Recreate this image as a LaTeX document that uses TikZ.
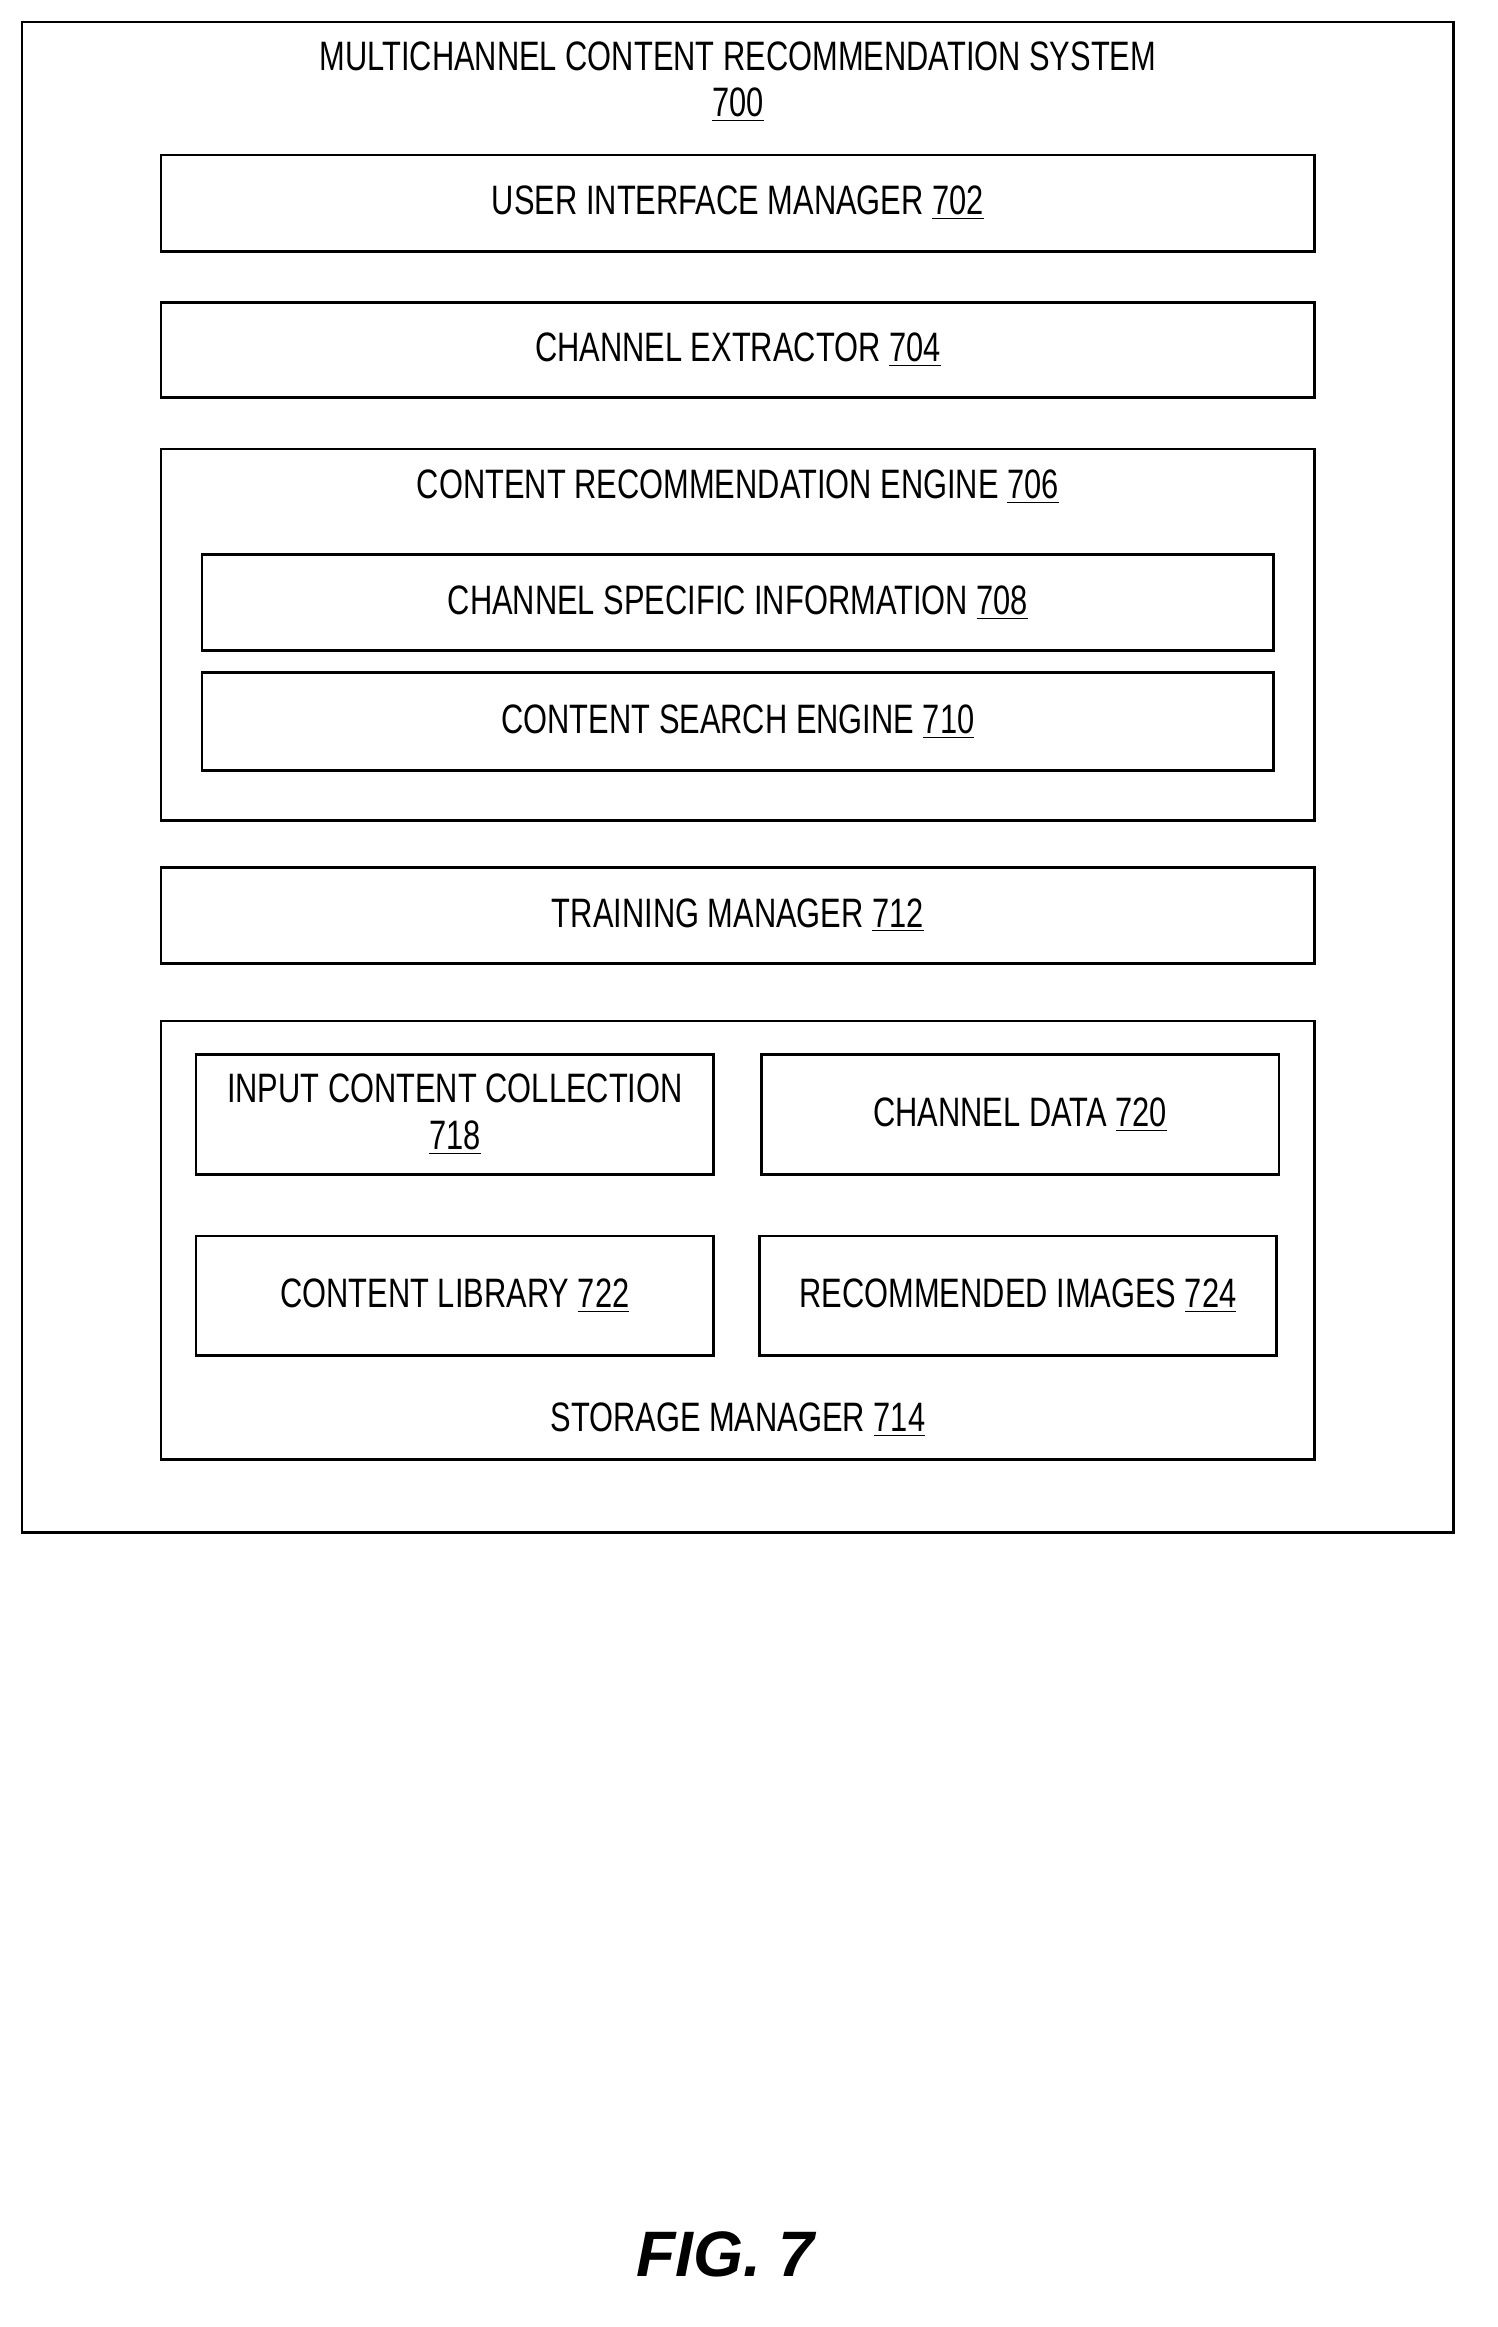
\documentclass[tikz,border=0pt]{standalone}
\usepackage{fontspec}
\setmainfont{Liberation Sans}[FakeStretch=0.75]
\newfontfamily\figfont{Liberation Sans}
\usetikzlibrary{positioning}
\tikzstyle{blk} = [rectangle, draw, line width=1.1pt, inner sep=0pt,
    minimum width=15.78cm, minimum height=1.32cm, align=center,
    font=\fontsize{16}{18}\selectfont]
\tikzstyle{lbl} = [inner sep=0pt, align=center, font=\fontsize{16}{18}\selectfont]

\begin{document}
\begin{tikzpicture}[x=0.02cm, y=-0.02cm]
    \useasboundingbox (0,0) rectangle (1024,1591);
    \node [blk, minimum width=19.58cm, minimum height=20.66cm] (system) at (504.5,531.5) {};
    \node [lbl] (systitle) at (504.5,56) {MULTICHANNEL CONTENT RECOMMENDATION SYSTEM\\ \underline{700}};
    \node [blk] (uim) at (504.5,139) {USER INTERFACE MANAGER \underline{702}};
    \node [blk, minimum height=1.30cm] (extractor) at (504.5,239.5) {CHANNEL EXTRACTOR \underline{704}};
    % recommendation engine
    \node [blk, minimum height=5.08cm] (engine) at (504.5,434) {};
    \node [lbl] (enginetitle) at (504.5,333) {CONTENT RECOMMENDATION ENGINE \underline{706}};
    \node [blk, minimum width=14.66cm] (specific) at (504.5,412) {CHANNEL SPECIFIC INFORMATION \underline{708}};
    \node [blk, minimum width=14.66cm, minimum height=1.34cm] (search) at (504.5,493.5) {CONTENT SEARCH ENGINE \underline{710}};
    \node [blk] (training) at (504.5,626) {TRAINING MANAGER \underline{712}};
    % storage
    \node [blk, minimum height=6.0cm] (storage) at (504.5,848) {};
    \node [lbl] (storagetitle) at (504.5,971) {STORAGE MANAGER \underline{714}};
    \node [blk, minimum width=7.08cm, minimum height=1.64cm] (input) at (311,762) {INPUT CONTENT COLLECTION\\ \underline{718}};
    \node [blk, minimum width=7.08cm, minimum height=1.64cm] (chdata) at (697.5,762) {CHANNEL DATA \underline{720}};
    \node [blk, minimum width=7.08cm, minimum height=1.64cm] (library) at (311,886) {CONTENT LIBRARY \underline{722}};
    \node [blk, minimum width=7.08cm, minimum height=1.64cm] (recommended) at (696,886) {RECOMMENDED IMAGES \underline{724}};
    \node [inner sep=0pt, font=\figfont\fontsize{25}{30}\selectfont\bfseries\itshape] (fig) at (496,1541) {FIG. 7};
\end{tikzpicture}
\end{document}
